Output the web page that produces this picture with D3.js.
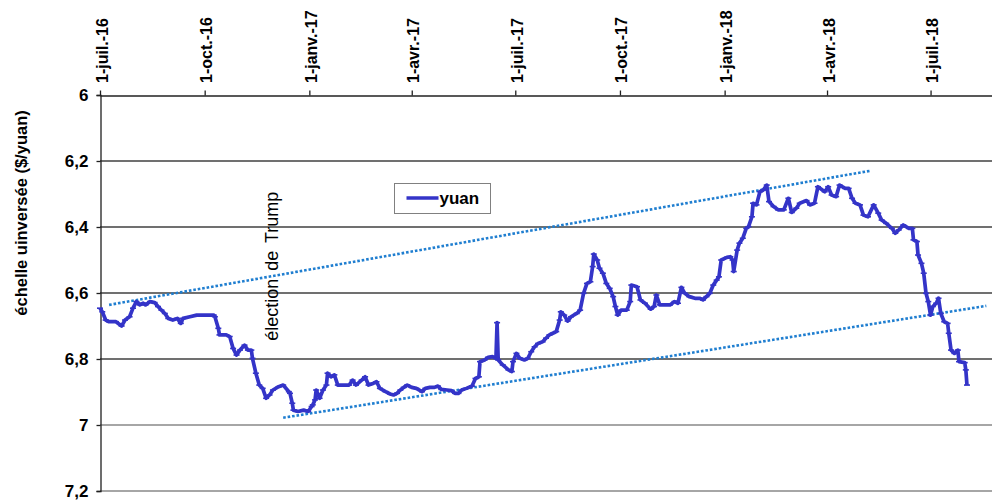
<!DOCTYPE html>
<html><head><meta charset="utf-8">
<script src="https://cdn.jsdelivr.net/npm/d3@7"></script>
<style>
html,body{margin:0;padding:0;background:#fff;}
svg{display:block;font-family:"Liberation Sans",Arial,sans-serif;}
</style></head>
<body><svg id="c" width="992" height="502"></svg>
<script>
const xTickDates = ["2016-07-01","2016-10-01","2017-01-01","2017-04-01","2017-07-01","2017-10-01","2018-01-01","2018-04-01","2018-07-01"];
const xTickLabels = ["1-juil.-16","1-oct.-16","1-janv.-17","1-avr.-17","1-juil.-17","1-oct.-17","1-janv.-18","1-avr.-18","1-juil.-18"];
const yTicks = [6, 6.2, 6.4, 6.6, 6.8, 7, 7.2];
const yTickLabels = ["6","6,2","6,4","6,6","6,8","7","7,2"];
const seriesName = "yuan";
const yTitle = "échelle uinversée ($/yuan)";
const annotation = "élection de Trump";

const yuanDates = ["2016-07-01","2016-07-03","2016-07-06","2016-07-09","2016-07-15","2016-07-20","2016-07-23","2016-07-27","2016-07-30","2016-08-02","2016-08-05","2016-08-08","2016-08-10","2016-08-14","2016-08-18","2016-08-21","2016-08-24","2016-08-27","2016-08-30","2016-09-03","2016-09-07","2016-09-10","2016-09-12","2016-09-18","2016-09-24","2016-10-01","2016-10-09","2016-10-10","2016-10-13","2016-10-14","2016-10-20","2016-10-23","2016-10-26","2016-10-29","2016-11-01","2016-11-05","2016-11-08","2016-11-11","2016-11-12","2016-11-15","2016-11-18","2016-11-21","2016-11-24","2016-11-27","2016-11-30","2016-12-05","2016-12-09","2016-12-14","2016-12-15","2016-12-17","2016-12-18","2016-12-22","2016-12-27","2016-12-31","2017-01-03","2017-01-04","2017-01-06","2017-01-07","2017-01-09","2017-01-10","2017-01-13","2017-01-16","2017-01-17","2017-01-20","2017-01-23","2017-01-26","2017-01-31","2017-02-05","2017-02-08","2017-02-11","2017-02-16","2017-02-19","2017-02-22","2017-02-26","2017-03-01","2017-03-04","2017-03-09","2017-03-13","2017-03-16","2017-03-19","2017-03-22","2017-03-25","2017-03-28","2017-04-01","2017-04-05","2017-04-10","2017-04-13","2017-04-17","2017-04-21","2017-04-24","2017-04-27","2017-05-02","2017-05-06","2017-05-09","2017-05-12","2017-05-15","2017-05-19","2017-05-24","2017-05-27","2017-05-30","2017-05-31","2017-06-04","2017-06-07","2017-06-11","2017-06-14","2017-06-15","2017-06-16","2017-06-20","2017-06-25","2017-06-28","2017-06-29","2017-07-02","2017-07-05","2017-07-09","2017-07-12","2017-07-15","2017-07-18","2017-07-21","2017-07-25","2017-07-28","2017-07-31","2017-08-03","2017-08-06","2017-08-09","2017-08-10","2017-08-13","2017-08-16","2017-08-19","2017-08-24","2017-08-27","2017-08-30","2017-09-02","2017-09-05","2017-09-07","2017-09-08","2017-09-11","2017-09-13","2017-09-16","2017-09-19","2017-09-22","2017-09-25","2017-09-27","2017-09-29","2017-10-02","2017-10-07","2017-10-10","2017-10-11","2017-10-16","2017-10-19","2017-10-23","2017-10-28","2017-10-31","2017-11-02","2017-11-05","2017-11-09","2017-11-14","2017-11-18","2017-11-21","2017-11-24","2017-11-27","2017-12-01","2017-12-06","2017-12-10","2017-12-13","2017-12-16","2017-12-19","2017-12-22","2017-12-25","2017-12-27","2017-12-29","2018-01-03","2018-01-06","2018-01-08","2018-01-09","2018-01-12","2018-01-14","2018-01-17","2018-01-20","2018-01-22","2018-01-25","2018-01-26","2018-01-29","2018-02-01","2018-02-04","2018-02-07","2018-02-09","2018-02-13","2018-02-17","2018-02-22","2018-02-26","2018-03-01","2018-03-05","2018-03-08","2018-03-14","2018-03-17","2018-03-21","2018-03-24","2018-03-30","2018-04-02","2018-04-05","2018-04-09","2018-04-12","2018-04-17","2018-04-20","2018-04-23","2018-04-26","2018-04-30","2018-05-03","2018-05-07","2018-05-12","2018-05-16","2018-05-19","2018-05-23","2018-05-28","2018-05-31","2018-06-03","2018-06-07","2018-06-12","2018-06-15","2018-06-16","2018-06-19","2018-06-20","2018-06-23","2018-06-25","2018-06-27","2018-06-29","2018-07-01","2018-07-03","2018-07-06","2018-07-08","2018-07-10","2018-07-13","2018-07-16","2018-07-17","2018-07-19","2018-07-22","2018-07-25","2018-07-26","2018-07-31","2018-08-01","2018-08-02"];
const yuanValues = [6.646,6.657,6.682,6.687,6.687,6.700,6.682,6.672,6.646,6.626,6.636,6.631,6.636,6.626,6.629,6.641,6.652,6.662,6.677,6.682,6.677,6.692,6.677,6.672,6.667,6.667,6.667,6.672,6.707,6.727,6.727,6.732,6.768,6.788,6.773,6.758,6.773,6.773,6.798,6.843,6.879,6.889,6.919,6.909,6.894,6.884,6.879,6.899,6.904,6.934,6.955,6.959,6.955,6.959,6.944,6.939,6.924,6.894,6.909,6.919,6.894,6.879,6.843,6.854,6.848,6.879,6.879,6.879,6.864,6.879,6.864,6.854,6.879,6.874,6.869,6.889,6.899,6.906,6.909,6.904,6.894,6.886,6.879,6.886,6.889,6.899,6.889,6.886,6.886,6.882,6.892,6.894,6.896,6.904,6.904,6.894,6.889,6.882,6.859,6.854,6.808,6.803,6.795,6.793,6.798,6.690,6.803,6.818,6.833,6.838,6.808,6.783,6.798,6.803,6.798,6.778,6.763,6.753,6.748,6.737,6.727,6.722,6.717,6.682,6.657,6.667,6.685,6.672,6.662,6.652,6.601,6.571,6.566,6.520,6.482,6.500,6.525,6.540,6.571,6.586,6.611,6.641,6.667,6.652,6.652,6.626,6.576,6.581,6.621,6.631,6.649,6.641,6.606,6.636,6.636,6.636,6.626,6.631,6.583,6.601,6.611,6.616,6.616,6.621,6.611,6.601,6.576,6.561,6.551,6.500,6.492,6.490,6.500,6.535,6.470,6.449,6.434,6.404,6.399,6.369,6.328,6.333,6.293,6.288,6.273,6.323,6.338,6.348,6.348,6.313,6.356,6.343,6.328,6.320,6.333,6.328,6.278,6.293,6.278,6.303,6.308,6.273,6.283,6.283,6.313,6.328,6.333,6.364,6.369,6.333,6.358,6.379,6.389,6.404,6.419,6.409,6.394,6.404,6.404,6.439,6.444,6.485,6.510,6.540,6.601,6.626,6.667,6.641,6.631,6.616,6.662,6.687,6.692,6.722,6.773,6.783,6.773,6.808,6.811,6.833,6.879];

const upperTrendDates = ["2016-07-09","2018-05-10"];
const upperTrendValues = [6.636, 6.229];
const lowerTrendDates = ["2016-12-09","2018-08-19"];
const lowerTrendValues = [6.978, 6.639];
const annotationDate = "2016-11-29";
const annotationValue = 6.745;

const parse = d3.utcParse("%Y-%m-%d");
const svg = d3.select("#c");

const x = d3.scaleUtc().domain([parse("2016-07-01"), parse("2018-08-24")]).range([100, 992]);
const y = d3.scaleLinear().domain([6, 7.2]).range([95, 491]);

// gridlines
svg.append("g").selectAll("line").data(yTicks.slice(1)).join("line")
  .attr("x1", 100).attr("x2", 992)
  .attr("y1", d => y(d)).attr("y2", d => y(d))
  .attr("stroke", d => d >= 7 ? "#a6a6a6" : "#404040")
  .attr("stroke-width", d => d >= 7 ? 2 : 1.3);

// y axis
const yAxis = d3.axisLeft(y).tickValues(yTicks).tickSize(4).tickFormat((d, i) => yTickLabels[i]);
const gy = svg.append("g").attr("transform", "translate(100.5,0)").call(yAxis);
gy.select(".domain").attr("stroke", "#202020").attr("stroke-width", 1.3);
gy.selectAll(".tick line").attr("stroke", "#202020").attr("stroke-width", 1.3);
gy.selectAll(".tick text").attr("x", -12).attr("font-size", 17).attr("font-weight", "bold")
  .attr("font-family", "Liberation Sans, Arial, sans-serif").attr("fill", "#000");

// x axis on top
const xAxis = d3.axisTop(x).tickValues(xTickDates.map(parse)).tickSize(5).tickSizeOuter(0)
  .tickFormat((d, i) => xTickLabels[i]);
const gx = svg.append("g").attr("transform", "translate(0,95.5)").call(xAxis);
gx.select(".domain").attr("stroke", "#202020").attr("stroke-width", 1.3);
gx.selectAll(".tick line").attr("stroke", "#202020").attr("stroke-width", 1.3);
gx.selectAll(".tick text")
  .attr("font-size", 16).attr("font-weight", "bold").attr("fill", "#000")
  .attr("font-family", "Liberation Sans, Arial, sans-serif")
  .attr("text-anchor", "start").attr("dy", null)
  .attr("transform", "translate(7,-12.5) rotate(-90)")
  .attr("x", 0).attr("y", 0);

// y title
svg.append("text").attr("transform", "translate(27,213) rotate(-90)")
  .attr("text-anchor", "middle").attr("font-size", 16.5).attr("font-weight", "bold")
  .attr("fill", "#000").text(yTitle);

// trend lines
const line = d3.line().x(d => x(d[0])).y(d => y(d[1]));
function trend(ds, vs) {
  svg.append("path").datum(ds.map((d, i) => [parse(d), vs[i]]))
    .attr("d", line).attr("fill", "none").attr("stroke", "#1f7ed0")
    .attr("stroke-width", 2.6).attr("stroke-dasharray", "2.6,1.9");
}
trend(upperTrendDates, upperTrendValues);
trend(lowerTrendDates, lowerTrendValues);

// yuan series
const data = yuanDates.map((d, i) => [parse(d), yuanValues[i]]);
svg.append("path").datum(data).attr("d", line)
  .attr("fill", "none").attr("stroke", "#3434c8").attr("stroke-width", 3.7)
  .attr("stroke-linejoin", "round");
svg.append("g").selectAll("line").data(data).join("line")
  .attr("x1", d => x(d[0]) - 3).attr("x2", d => x(d[0]) + 3)
  .attr("y1", d => y(d[1])).attr("y2", d => y(d[1]))
  .attr("stroke", "#3434c8").attr("stroke-width", 1.6);

// annotation
svg.append("text")
  .attr("transform", `translate(${x(parse(annotationDate)) + 6},${y(annotationValue)}) rotate(-90)`)
  .attr("font-size", 18).attr("word-spacing", 3).attr("fill", "#000").text(annotation);

// legend
const lg = svg.append("g").attr("transform", "translate(394.5,183.5)");
lg.append("rect").attr("width", 96).attr("height", 30).attr("fill", "#fff")
  .attr("stroke", "#808080").attr("stroke-width", 1);
lg.append("line").attr("x1", 12).attr("x2", 44).attr("y1", 14.5).attr("y2", 14.5)
  .attr("stroke", "#3434c8").attr("stroke-width", 3.4);
lg.append("text").attr("x", 45).attr("y", 20.5).attr("font-size", 17).attr("font-weight", "bold")
  .attr("fill", "#000").text(seriesName);
</script></body></html>
